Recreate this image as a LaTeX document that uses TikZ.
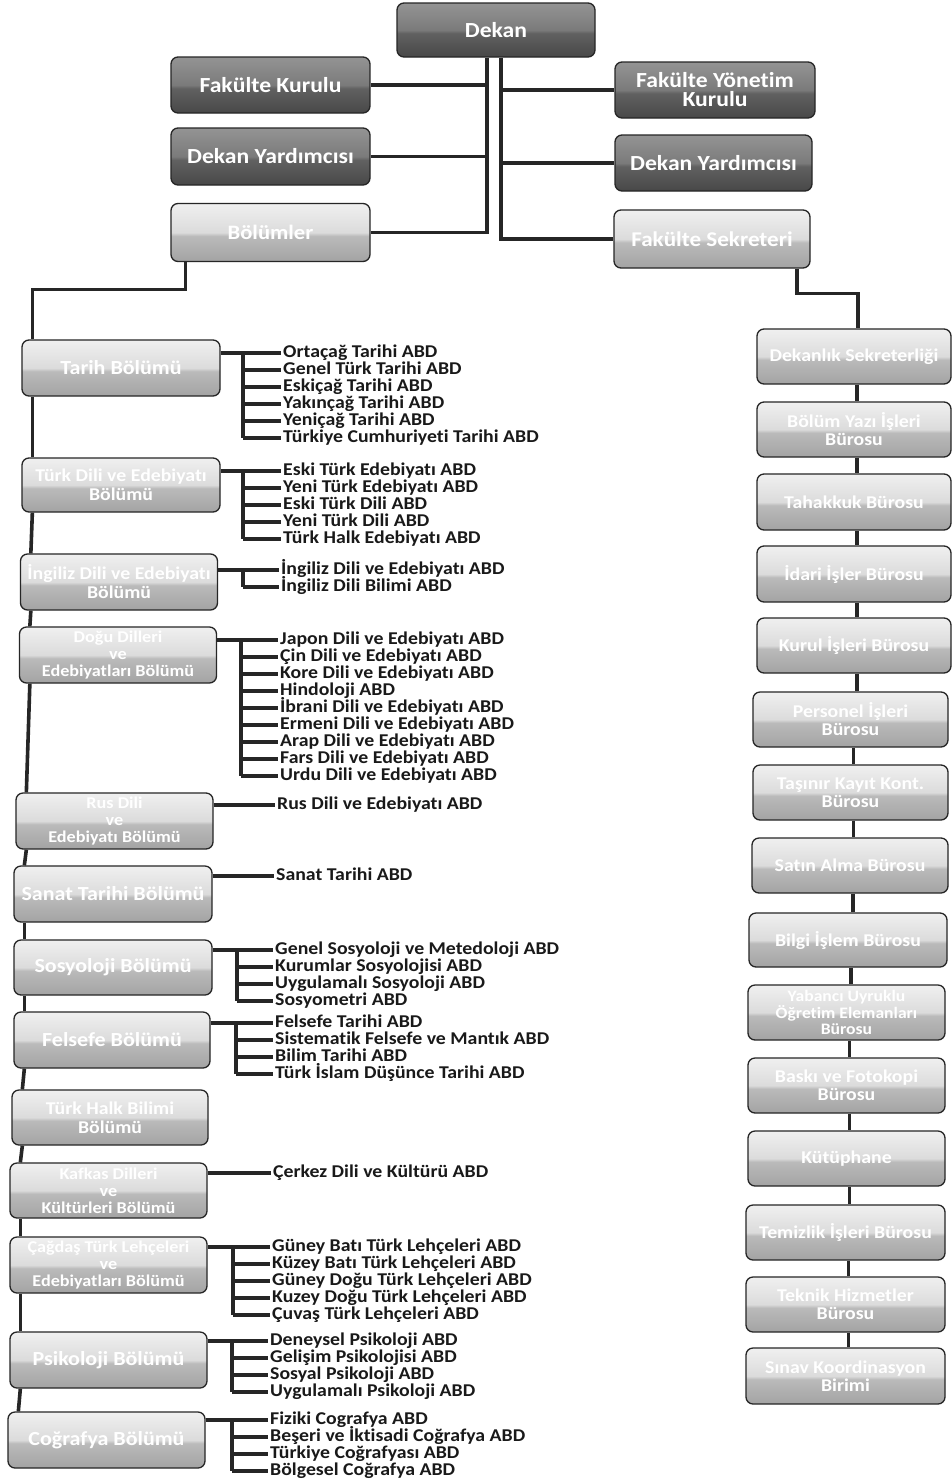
\documentclass[tikz,border=0pt]{standalone}
\usepackage{fontspec}
\setmainfont{Carlito}[Ligatures=NoCommon]
\newfontfamily\wide{Carlito}[FakeStretch=1.1,Ligatures=NoCommon]
\usetikzlibrary{calc,backgrounds}
\pgfdeclareverticalshading{lightgloss}{100bp}{color(0bp)=(black!36); color(25bp)=(black!36); color(47bp)=(black!27); color(50bp)=(black!14); color(75bp)=(black!6); color(100bp)=(black!6)}
\pgfdeclareverticalshading{darkgloss}{100bp}{color(0bp)=(black!72); color(25bp)=(black!72); color(47bp)=(black!62); color(50bp)=(black!52); color(75bp)=(black!42); color(100bp)=(black!42)}
\tikzset{
  boxbase/.style={rounded corners=7pt, draw=black!85, line width=1.3pt, text=white, align=center, inner sep=1pt},
  topbox/.style={boxbase, shading=darkgloss, minimum width=199pt, minimum height=56pt, font=\wide\bfseries\fontsize{21.5}{19}\selectfont},
  midbox/.style={boxbase, shading=lightgloss, minimum width=199pt, minimum height=58pt, font=\wide\bfseries\fontsize{21}{19}\selectfont},
  lbox/.style={boxbase, shading=lightgloss, minimum width=197pt, minimum height=56pt, font=\wide\bfseries\fontsize{20}{19}\selectfont},
  lboxm/.style={lbox, font=\wide\bfseries\fontsize{18}{19}\selectfont},
  lboxt/.style={lbox, font=\wide\bfseries\fontsize{16.5}{17}\selectfont},
  rbox/.style={boxbase, shading=lightgloss, minimum width=195pt, minimum height=55pt, font=\wide\bfseries\fontsize{18}{18}\selectfont},
  rboxt/.style={rbox, font=\wide\bfseries\fontsize{16}{16.5}\selectfont},
  conn/.style={line width=3.6pt, draw=black!85},
  item/.style={anchor=west, inner sep=0pt, text height=12pt, text depth=3.5pt, font=\wide\bfseries\fontsize{18}{17}\selectfont, text=black!90},
}
\newcommand\abdgroup[6]{%
  \foreach \t [count=\i] in {#6} {\node[item] (#2\i) at (#3,{#5+17*(\i-1)}) {\t}; \xdef\abdlast{\i}}%
  \coordinate (#2B) at (#4,0);
  \begin{pgfonlayer}{background}
    \draw[conn,shorten >=2pt] (#1.east |- #21.west) -- (#21.west);
    \ifnum\abdlast>1
      \draw[conn] (#21.west -| #2B) -- (#2\abdlast.west -| #2B);
      \foreach \i in {2,...,\abdlast} \draw[conn,shorten >=2pt] (#2\i.west -| #2B) -- (#2\i.west);
    \fi
  \end{pgfonlayer}}
\begin{document}
\begin{tikzpicture}[x=1pt,y=-1pt]
\begin{pgfonlayer}{background}
\fill[white] (0,0) rectangle (951,1484);
\end{pgfonlayer}
\useasboundingbox (0,0) rectangle (951,1484);
% top
\node[topbox, minimum width=198pt, minimum height=54pt] (dekan) at (496,30) {Dekan};
\node[topbox] (fk) at (270.5,85) {Fakülte Kurulu};
\node[topbox, minimum height=57pt] (dy1) at (270.5,156.5) {Dekan Yardımcısı};
\node[midbox, font=\wide\bfseries\fontsize{20.5}{19}\selectfont] (bl) at (270.5,232.5) {Bölümler};
\node[topbox, minimum width=200pt] (fyk) at (715,90) {Fakülte Yönetim\\Kurulu};
\node[topbox, minimum width=197pt] (dy2) at (713.5,163) {Dekan Yardımcısı};
\node[midbox, minimum width=196pt] (fs) at (712,239) {Fakülte Sekreteri};
\coordinate (cl) at ($(dekan.south)+(-9,0)$);
\coordinate (cr) at ($(dekan.south)+(5,0)$);
% left departments
\node[lbox, minimum width=198pt] (tarih) at (121,368) {Tarih Bölümü};
\node[lboxm, minimum width=198pt, minimum height=54pt] (turk) at (121,485) {Türk Dili ve Edebiyatı\\Bölümü};
\node[lboxm] (ing) at (119,582) {İngiliz Dili ve Edebiyatı\\Bölümü};
\node[lboxt] (dogu) at (118,655) {Doğu Dilleri\\ve\\Edebiyatları Bölümü};
\node[lboxt] (rus) at (114.5,821) {Rus Dili\\ve\\Edebiyatı Bölümü};
\node[lbox, minimum width=198pt] (sanat) at (113,894) {Sanat Tarihi Bölümü};
\node[lbox, minimum width=198pt, minimum height=55pt] (sos) at (113,967.5) {Sosyoloji Bölümü};
\node[lbox, minimum width=196pt] (fel) at (112,1040) {Felsefe Bölümü};
\node[lboxm, minimum width=196pt, minimum height=55pt] (halk) at (110,1117.5) {Türk Halk Bilimi\\Bölümü};
\node[lboxt, minimum height=55pt] (kaf) at (108.5,1190.5) {Kafkas Dilleri\\ve\\Kültürleri Bölümü};
\node[lboxt] (cag) at (108.5,1265) {Çağdaş Türk Lehçeleri\\ve\\Edebiyatları Bölümü};
\node[lbox] (psi) at (108.5,1360) {Psikoloji Bölümü};
\node[lbox] (cog) at (106.5,1440) {Coğrafya Bölümü};
% right column
\node[rbox, minimum width=194pt] (r1) at (854,356.5) {Dekanlık Sekreterliği};
\node[rbox, minimum width=194pt] (r2) at (854,429.5) {Bölüm Yazı İşleri\\Bürosu};
\node[rbox, minimum width=194pt, minimum height=56pt] (r3) at (854,502) {Tahakkuk Bürosu};
\node[rbox, minimum width=194pt, minimum height=56pt] (r4) at (854,574) {İdari İşler Bürosu};
\node[rbox, minimum width=194pt] (r5) at (854,645.5) {Kurul İşleri Bürosu};
\node[rbox] (r6) at (850.5,719.5) {Personel İşleri\\Bürosu};
\node[rbox] (r7) at (850.5,792.5) {Taşınır Kayıt Kont.\\Bürosu};
\node[rbox, minimum width=196pt] (r8) at (850,865.5) {Satın Alma Bürosu};
\node[rbox, minimum width=198pt, minimum height=54pt] (r9) at (848,940) {Bilgi İşlem Bürosu};
\node[rboxt, minimum width=197pt] (r10) at (846.5,1012.5) {Yabancı Uyruklu\\Öğretim Elemanları\\Bürosu};
\node[rbox, minimum width=197pt] (r11) at (846.5,1085.5) {Baskı ve Fotokopi\\Bürosu};
\node[rbox, minimum width=197pt] (r12) at (846.5,1158.5) {Kütüphane};
\node[rbox, minimum width=199pt] (r13) at (845.5,1232.5) {Temizlik İşleri Bürosu};
\node[rbox, minimum width=199pt] (r14) at (845.5,1304.5) {Teknik Hizmetler\\Bürosu};
\node[rbox, minimum width=199pt, minimum height=56pt] (r15) at (845.5,1376) {Sınav Koordinasyon\\Birimi};
% ABD groups
\abdgroup{tarih}{ta}{283}{243}{353}{Ortaçağ Tarihi ABD, Genel Türk Tarihi ABD, Eskiçağ Tarihi ABD, Yakınçağ Tarihi ABD, Yeniçağ Tarihi ABD, Türkiye Cumhuriyeti Tarihi ABD}
\abdgroup{turk}{tu}{283}{243}{471}{Eski Türk Edebiyatı ABD, Yeni Türk Edebiyatı ABD, Eski Türk Dili ABD, Yeni Türk Dili ABD, Türk Halk Edebiyatı ABD}
\abdgroup{ing}{in}{281}{243}{570}{İngiliz Dili ve Edebiyatı ABD, İngiliz Dili Bilimi ABD}
\abdgroup{dogu}{do}{280}{241}{640}{Japon Dili ve Edebiyatı ABD, Çin Dili ve Edebiyatı ABD, Kore Dili ve Edebiyatı ABD, Hindoloji ABD, İbrani Dili ve Edebiyatı ABD, Ermeni Dili ve Edebiyatı ABD, Arap Dili ve Edebiyatı ABD, Fars Dili ve Edebiyatı ABD, Urdu Dili ve Edebiyatı ABD}
\abdgroup{rus}{ru}{277}{240}{805}{Rus Dili ve Edebiyatı ABD}
\abdgroup{sanat}{sa}{276}{240}{876}{Sanat Tarihi ABD}
\abdgroup{sos}{so}{275}{237}{950}{Genel Sosyoloji ve Metedoloji ABD, Kurumlar Sosyolojisi ABD, Uygulamalı Sosyoloji ABD, Sosyometri ABD}
\abdgroup{fel}{fe}{275}{236}{1023}{Felsefe Tarihi ABD, Sistematik Felsefe ve Mantık ABD, Bilim Tarihi ABD, Türk İslam Düşünce Tarihi ABD}
\abdgroup{kaf}{ka}{273}{235}{1173}{Çerkez Dili ve Kültürü ABD}
\abdgroup{cag}{ca}{272}{233}{1247}{Güney Batı Türk Lehçeleri ABD, Küzey Batı Türk Lehçeleri ABD, Güney Doğu Türk Lehçeleri ABD, Kuzey Doğu Türk Lehçeleri ABD, Çuvaş Türk Lehçeleri ABD}
\abdgroup{psi}{ps}{270}{232}{1341}{Deneysel Psikoloji ABD, Gelişim Psikolojisi ABD, Sosyal Psikoloji ABD, Uygulamalı Psikoloji ABD}
\abdgroup{cog}{co}{270}{232}{1420}{Fiziki Cografya ABD, Beşeri ve İktisadi Coğrafya ABD, Türkiye Coğrafyası ABD, Bölgesel Coğrafya ABD}
% connectors
\begin{pgfonlayer}{background}
\draw[conn] (cl) |- (bl.east);
\draw[conn] (fk.east) -- (fk.east -| cl);
\draw[conn] (dy1.east) -- (dy1.east -| cl);
\draw[conn] (cr) |- (fs.west);
\draw[conn] (fyk.west) -- (fyk.west -| cr);
\draw[conn] (dy2.west) -- (dy2.west -| cr);
\draw[conn] ($(bl.south)+(-85,0)$) |- ($(tarih.north west)+(11,-50)$) -- ($(tarih.north west)+(11,0)$);
\draw[conn] ($(fs.south)+(85,0)$) |- ($(r1.north)+(4,-35)$) -- ($(r1.north)+(4,0)$);
\foreach \a/\b in {tarih/turk, turk/ing, ing/dogu, dogu/rus, rus/sanat, sanat/sos, sos/fel, fel/halk, halk/kaf, kaf/cag, cag/psi, psi/cog}
  \draw[conn] ($(\a.south west)+(11,0)$) -- ($(\b.north west)+(11,0)$);
\foreach \a/\b in {r1/r2, r2/r3, r3/r4, r4/r5, r5/r6, r6/r7, r7/r8, r8/r9, r9/r10, r10/r11, r11/r12, r12/r13, r13/r14, r14/r15} {
  \coordinate (sp) at ($(\a.south)+(3,0)$);
  \draw[conn] (sp) -- (sp |- \b.north);
}
\end{pgfonlayer}
\end{tikzpicture}
\end{document}
